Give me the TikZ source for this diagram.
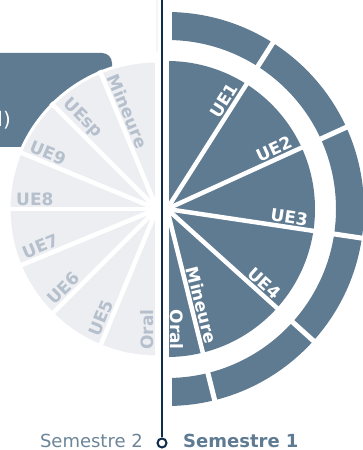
\documentclass[tikz,border=0pt]{standalone}
\usepackage{fontspec}
\setmainfont{DejaVu Sans}
\definecolor{slate}{HTML}{5F7B92}
\definecolor{pale}{HTML}{ECEEF2}
\definecolor{paletext}{HTML}{B5C0CC}
\definecolor{navy}{HTML}{0F2D4B}
\definecolor{semtwo}{HTML}{6C8599}
\begin{document}
\begin{tikzpicture}[x=1pt,y=1pt,
  rlab/.style={text=white, font=\fontsize{17}{20}\selectfont\bfseries, anchor=south east, inner xsep=0pt, inner ysep=3.5pt},
  llab/.style={text=paletext, font=\fontsize{17}{20}\selectfont\bfseries, anchor=south west, inner xsep=0pt, inner ysep=3.5pt},
  gap/.style={white, line width=4.5pt},
  ringgap/.style={white, line width=5pt}]
\useasboundingbox (0,0) rectangle (363,450);
\clip (0,0) rectangle (363,450);
% faint strip
\fill[pale!60!white] (155.8,398) rectangle (157.6,450);
% tooltip box
\fill[slate, rounded corners=10pt] (-20,303) rectangle (112,397);
\node[text=white, font=\fontsize{20}{24}\selectfont, anchor=east, inner sep=0pt] (boxtext) at (11,330) {l)};
% left pie (Semestre 2)
\coordinate (L) at (157,241);
\fill[pale, draw=white, line width=3pt] (L) -- ++(90:148) arc[start angle=90, end angle=270, radius=148] -- cycle;
\foreach \a in {90,112.5,...,270} \draw[gap] (L) -- ++(\a:150);
\foreach \a/\t in {112.5/Mineure,135/UEsp,157.5/UE9,180/UE8,202.5/UE7,225/UE6,247.5/UE5,270/Oral}
  \node[llab, rotate=\a-180] (l\t) at ([shift={(\a:141)}]L) {\t};
% right pie (Semestre 1)
\coordinate (R) at (167,241);
\fill[slate] (R) -- ++(-90:148) arc[start angle=-90, end angle=90, radius=148] -- cycle;
\fill[slate] (R) ++(90:197) arc[start angle=90, end angle=-90, radius=197] -- ++(0,28) arc[start angle=-90, end angle=90, radius=169] -- cycle;
\foreach \a in {90,57.5,24.5,-8.5,-42,-76,-90} \draw[gap] (R) -- ++(\a:150);
\foreach \a in {57.5,24.5,-8.5,-42,-76} \draw[ringgap] (R) ++(\a:160) -- ++(\a:45);
\draw[white, line width=10pt] (R) ++(90:160) -- ++(90:45);
\draw[white, line width=10pt] (R) ++(-90:160) -- ++(-90:45);
\foreach \a/\t in {57.5/UE1,24.5/UE2,-8.5/UE3,-42/UE4,-76/Mineure,-90/Oral}
  \node[rlab, rotate=\a] (r\t) at ([shift={(\a:141)}]R) {\t};
% timeline
\node[circle, draw=navy, line width=2pt, fill=white, minimum size=9pt, inner sep=0pt] (dot) at (162,7) {};
\coordinate (top) at (162,450);
\draw[navy, line width=2pt] (top) -- (dot);
\node[text=semtwo, font=\fontsize{18}{20}\selectfont, anchor=base east, inner sep=0pt] (s2) at (143,2) {Semestre 2};
\node[text=slate, font=\fontsize{18}{20}\selectfont\bfseries, anchor=base west, inner sep=0pt] (s1) at (183,2) {Semestre 1};
\end{tikzpicture}
\end{document}
